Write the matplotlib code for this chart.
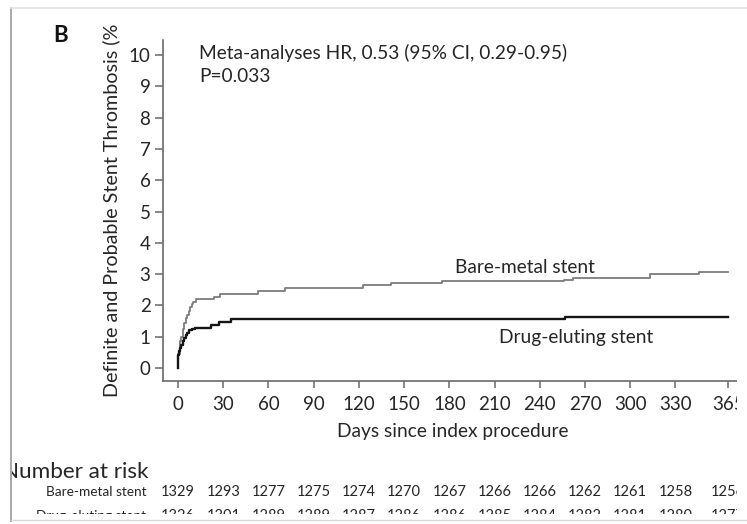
import numpy as np
import matplotlib.pyplot as plt
from matplotlib.patches import Rectangle
from matplotlib.lines import Line2D

plt.rcParams['font.family'] = ['Lato', 'DejaVu Sans']

W, H = 747, 524

# Kaplan-Meier style cumulative incidence (%)
bms_days = [0, 0, 1, 2, 3, 4, 5, 6, 7, 8, 9, 10, 12, 24, 28, 53, 71, 123, 141, 175, 256, 262, 313, 346, 365]
bms_vals = [0, 0.45, 0.85, 1.0, 1.25, 1.45, 1.6, 1.7, 1.82, 1.95, 2.05, 2.12, 2.2, 2.28, 2.37, 2.46, 2.55,
            2.64, 2.71, 2.78, 2.81, 2.87, 3.0, 3.06, 3.06]
des_days = [0, 0, 0.3, 1, 2, 3, 4, 5, 6, 7, 9, 11, 22, 27, 35, 257, 365]
des_vals = [0, 0.4, 0.55, 0.65, 0.73, 0.85, 0.96, 1.05, 1.13, 1.2, 1.26, 1.29, 1.37, 1.46, 1.56, 1.64, 1.64]

xticks = [0, 30, 60, 90, 120, 150, 180, 210, 240, 270, 300, 330, 365]
yticks = list(range(0, 11))
risk_bms = [1329, 1293, 1277, 1275, 1274, 1270, 1267, 1266, 1266, 1262, 1261, 1258, 1256]
risk_des = [1326, 1301, 1289, 1289, 1287, 1286, 1286, 1285, 1284, 1282, 1281, 1280, 1277]

txt = '#262626'
axc = '#6a6a6a'
big = 13.8


def fx(x):
    return x / W


def fy(y):
    return 1 - y / H


fig = plt.figure(figsize=(W / 100, H / 100), dpi=100)
fig.patch.set_facecolor('white')

ax = fig.add_axes([fx(163), fy(381), fx(750.7) - fx(163), (381 - 40) / H])
ax.step(bms_days, bms_vals, where='post', color='#7c7c7c', lw=1.3)
ax.step(des_days, des_vals, where='post', color='#151515', lw=1.7)
ax.set_xlim(-10, 380)
ax.set_ylim(-0.415, 10.48)
ax.set_xticks(xticks)
ax.set_yticks(yticks)
for s in ['top', 'right']:
    ax.spines[s].set_visible(False)
for s in ['left', 'bottom']:
    ax.spines[s].set_color(axc)
    ax.spines[s].set_linewidth(1.2)
ax.tick_params(axis='both', direction='out', color=axc, width=1.1, labelcolor=txt, labelsize=13.5)
ax.tick_params(axis='x', length=5, pad=6)
ax.tick_params(axis='y', length=6, pad=3)

ax.text(184, 3.2, 'Bare-metal stent', fontsize=big, color=txt, va='center')
ax.text(213, 0.97, 'Drug-eluting stent', fontsize=big, color=txt, va='center')

fig.text(fx(199), fy(53), 'Meta-analyses HR, 0.53 (95% CI, 0.29-0.95)', fontsize=big, color=txt, va='center')
fig.text(fx(199), fy(76), 'P=0.033', fontsize=big, color=txt, va='center')
fig.text(fx(53), fy(35), 'B', fontsize=16, fontweight='bold', color='#111111', va='center')
fig.text(fx(111), fy(210), 'Definite and Probable Stent Thrombosis (%', fontsize=14.2, color=txt,
         rotation=90, ha='center', va='center')
fig.text(fx(453), fy(432), 'Days since index procedure', fontsize=big, color=txt, ha='center', va='center')

# number at risk table
fig.text(fx(148), fy(472), 'Number at risk', fontsize=16.2, color=txt, ha='right', va='center')
fig.text(fx(146), fy(492), 'Bare-metal stent', fontsize=9.8, color=txt, ha='right', va='center')
fig.text(fx(146), fy(516), 'Drug-eluting stent', fontsize=9.8, color=txt, ha='right', va='center')
to_fig = ax.transData + fig.transFigure.inverted()
for d, a, b in zip(xticks, risk_bms, risk_des):
    xf = to_fig.transform((d, 0))[0]
    fig.text(xf, fy(492), str(a), fontsize=10.5, color=txt, ha='center', va='center')
    fig.text(xf, fy(516), str(b), fontsize=10.5, color=txt, ha='center', va='center')

# screenshot frame: white margins clip the content, thin gray borders
for x0, y0, x1, y1 in [(0, 0, W, 8), (0, 0, 11, H), (737, 0, W, H), (0, 514, W, H)]:
    fig.add_artist(Rectangle((fx(x0), fy(y1)), fx(x1) - fx(x0), (y1 - y0) / H,
                             transform=fig.transFigure, facecolor='white', edgecolor='none', zorder=20))
fig.add_artist(Line2D([fx(11), fx(11)], [fy(8), fy(521)], transform=fig.transFigure,
                      color='#a8a8a8', lw=1.4, zorder=21))
fig.add_artist(Line2D([fx(11), fx(W)], [fy(8), fy(8)], transform=fig.transFigure,
                      color='#e2e2e2', lw=1.2, zorder=21))
fig.add_artist(Line2D([fx(11), fx(W)], [fy(520), fy(520)], transform=fig.transFigure,
                      color='#d8d8d8', lw=1.0, zorder=21))

fig.savefig('out.png', dpi=100)
